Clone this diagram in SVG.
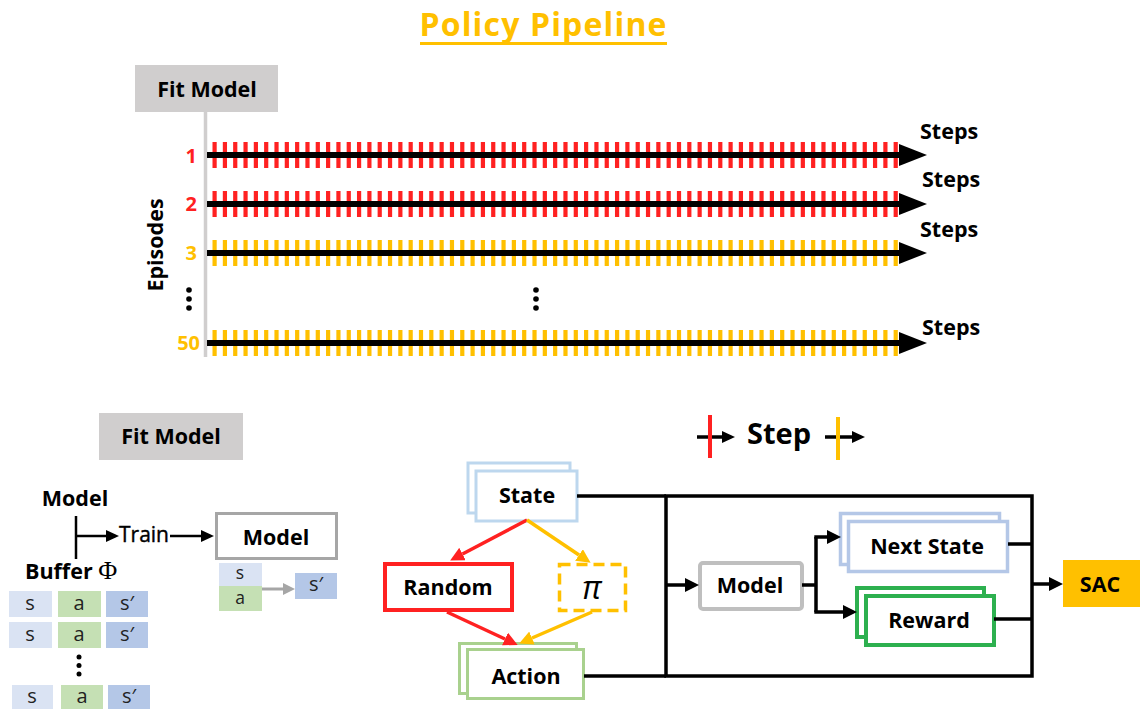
<svg xmlns="http://www.w3.org/2000/svg" width="1140" height="709" viewBox="0 0 1140 709">
<style>
text{font-family:"Open Sans","Liberation Sans",sans-serif;}
.lbl{font-size:21.5px;font-weight:bold;fill:#000;}
.num{font-size:20px;font-weight:bold;}
.cell{font-size:20px;fill:#222;text-anchor:middle;}
.cs{font-size:17.5px;fill:#222;text-anchor:middle;}
.con{fill:none;stroke:#000;stroke-width:3.5;}
.tickR{stroke:#ff2121;stroke-width:26;stroke-dasharray:4.2 6.12;}
.tickY{stroke:#ffc000;stroke-width:26;stroke-dasharray:4.2 6.12;}
.axis{stroke:#000;stroke-width:6;}
</style>
<defs>
<marker id="big" markerUnits="userSpaceOnUse" markerWidth="28" markerHeight="22" viewBox="0 0 28 22" refX="0" refY="11" orient="auto"><path d="M0,0 L28,11 L0,22 z" fill="#000"/></marker>
<marker id="ah" markerUnits="userSpaceOnUse" markerWidth="14" markerHeight="14" viewBox="0 0 14 14" refX="0" refY="7" orient="auto"><path d="M0,0 L14,7 L0,14 z" fill="#000"/></marker>
<marker id="ahs" markerUnits="userSpaceOnUse" markerWidth="13" markerHeight="12" viewBox="0 0 13 12" refX="0" refY="6" orient="auto"><path d="M0,0 L13,6 L0,12 z" fill="#000"/></marker>
<marker id="ahg" markerUnits="userSpaceOnUse" markerWidth="12" markerHeight="12" viewBox="0 0 12 12" refX="0" refY="6" orient="auto"><path d="M0,0 L12,6 L0,12 z" fill="#a6a6a6"/></marker>
<marker id="ahr" markerUnits="userSpaceOnUse" markerWidth="14" markerHeight="14" viewBox="0 0 14 14" refX="0" refY="7" orient="auto"><path d="M0,0 L14,7 L0,14 z" fill="#ff2121"/></marker>
<marker id="ahy" markerUnits="userSpaceOnUse" markerWidth="14" markerHeight="14" viewBox="0 0 14 14" refX="0" refY="7" orient="auto"><path d="M0,0 L14,7 L0,14 z" fill="#ffc000"/></marker>
</defs>
<rect width="1140" height="709" fill="#fff"/>

<!-- Title -->
<g id="title">
<text x="543" y="36" font-size="32" font-weight="bold" fill="#ffc000" text-anchor="middle" textLength="247">Policy Pipeline</text>
<rect x="420" y="42" width="247" height="3" fill="#ffc000"/>
</g>

<!-- Top pipeline -->
<g id="fit-model-top">
<rect x="135" y="65" width="143" height="47" fill="#d0cece"/>
<text x="207" y="97" class="lbl" text-anchor="middle">Fit Model</text>
</g>
<g id="timeline-axis">
<line x1="205.5" y1="112" x2="205.5" y2="357" stroke="#d0cece" stroke-width="3.5"/>
<text class="lbl" transform="translate(163,245) rotate(-90)" text-anchor="middle">Episodes</text>
<circle cx="189" cy="290" r="2.8"/><circle cx="189" cy="299" r="2.8"/><circle cx="189" cy="308" r="2.8"/>
<circle cx="536" cy="290" r="2.8"/><circle cx="536" cy="299" r="2.8"/><circle cx="536" cy="308" r="2.8"/>
</g>
<g id="episode-1">
<text x="197" y="163" class="num" fill="#ff2121" text-anchor="end">1</text>
<line class="tickR" x1="212.5" y1="155" x2="898" y2="155"/>
<line class="axis" x1="207" y1="155" x2="899" y2="155" marker-end="url(#big)"/>
<text x="920" y="139" class="lbl">Steps</text>
</g>
<g id="episode-2">
<text x="197" y="211" class="num" fill="#ff2121" text-anchor="end">2</text>
<line class="tickR" x1="212.5" y1="204" x2="898" y2="204"/>
<line class="axis" x1="207" y1="204" x2="899" y2="204" marker-end="url(#big)"/>
<text x="922" y="187" class="lbl">Steps</text>
</g>
<g id="episode-3">
<text x="197" y="260" class="num" fill="#ffc000" text-anchor="end">3</text>
<line class="tickY" x1="212.5" y1="253" x2="898" y2="253"/>
<line class="axis" x1="207" y1="253" x2="899" y2="253" marker-end="url(#big)"/>
<text x="920" y="237" class="lbl">Steps</text>
</g>
<g id="episode-50">
<text x="200" y="350" class="num" fill="#ffc000" text-anchor="end">50</text>
<line class="tickY" x1="212.5" y1="343" x2="898" y2="343"/>
<line class="axis" x1="207" y1="343" x2="899" y2="343" marker-end="url(#big)"/>
<text x="922" y="335" class="lbl">Steps</text>
</g>

<!-- Bottom left: fit model -->
<g id="fit-model-bottom">
<rect x="99" y="413" width="144" height="47" fill="#d0cece"/>
<text x="171" y="444" class="lbl" text-anchor="middle">Fit Model</text>
</g>
<g id="model-label"><text x="75" y="506" class="lbl" text-anchor="middle">Model</text></g>
<g id="buffer-label"><text x="25" y="579" class="lbl">Buffer <tspan font-family="'Liberation Serif',serif" font-weight="normal" font-size="26">Φ</tspan></text></g>
<g id="train-label"><text x="119" y="542" font-size="21" fill="#000" stroke="#000" stroke-width="0.4">Train</text></g>
<g id="model-train">
<rect x="216.5" y="513.5" width="120" height="45" fill="#fff" stroke="#a6a6a6" stroke-width="3"/>
<text x="276" y="545" class="lbl" text-anchor="middle">Model</text>
</g>
<g id="model-io">
<rect x="219" y="563" width="43" height="23" fill="#dae3f3"/><text x="240" y="579" class="cs">s</text>
<rect x="219" y="586" width="43" height="25" fill="#c5e0b4"/><text x="240" y="604" class="cs">a</text>
<rect x="295" y="573" width="42" height="26" fill="#b4c7e7"/><text x="316" y="591" class="cell">s′</text>
</g>
<g id="buffer">
<rect x="9" y="591" width="43" height="26" fill="#dae3f3"/><text x="30" y="610" class="cell">s</text>
<rect x="58" y="591" width="43" height="26" fill="#c5e0b4"/><text x="79" y="610" class="cell">a</text>
<rect x="106" y="591" width="42" height="26" fill="#b4c7e7"/><text x="127" y="610" class="cell">s′</text>
<rect x="9" y="622" width="43" height="26" fill="#dae3f3"/><text x="30" y="641" class="cell">s</text>
<rect x="58" y="622" width="43" height="26" fill="#c5e0b4"/><text x="79" y="641" class="cell">a</text>
<rect x="106" y="622" width="42" height="26" fill="#b4c7e7"/><text x="127" y="641" class="cell">s′</text>
<circle cx="79" cy="657" r="2.5"/><circle cx="79" cy="665.5" r="2.5"/><circle cx="79" cy="674" r="2.5"/>
<rect x="12" y="685" width="41" height="24" fill="#dae3f3"/><text x="32" y="703" class="cell">s</text>
<rect x="61" y="685" width="42" height="24" fill="#c5e0b4"/><text x="82" y="703" class="cell">a</text>
<rect x="108" y="685" width="42" height="24" fill="#b4c7e7"/><text x="129" y="703" class="cell">s′</text>
</g>

<!-- Legend -->
<g id="legend">
<line x1="697" y1="437" x2="722" y2="437" stroke="#000" stroke-width="3.5" marker-end="url(#ahs)"/>
<line x1="710" y1="415" x2="710" y2="458" stroke="#ff2121" stroke-width="4"/>
<text x="747" y="444" font-size="29" font-weight="bold">Step</text>
<line x1="825" y1="437" x2="852" y2="437" stroke="#000" stroke-width="3.5" marker-end="url(#ahs)"/>
<line x1="838" y1="417" x2="838" y2="460" stroke="#ffc000" stroke-width="4"/>
</g>

<!-- Middle / right flow nodes -->
<g id="state">
<rect x="468" y="463" width="102" height="50" fill="#fff" stroke="#bdd7ee" stroke-width="3"/>
<rect x="476" y="471" width="101" height="50" fill="#fff" stroke="#bdd7ee" stroke-width="3"/>
<text x="527" y="503" class="lbl" text-anchor="middle">State</text>
</g>
<g id="random">
<rect x="385" y="564" width="127" height="46" fill="#fff" stroke="#ff2121" stroke-width="4"/>
<text x="448" y="595" class="lbl" text-anchor="middle">Random</text>
</g>
<g id="policy">
<rect x="559.5" y="564.5" width="66" height="46" fill="#fff" stroke="#ffc000" stroke-width="3.5" stroke-dasharray="11 6"/>
<text x="592" y="599" font-family="'Liberation Serif',serif" font-style="italic" font-size="32" text-anchor="middle">π</text>
</g>
<g id="action">
<rect x="459.5" y="643.5" width="117" height="50" fill="#fff" stroke="#a9d18e" stroke-width="3"/>
<rect x="467.5" y="649.5" width="116" height="49" fill="#fff" stroke="#a9d18e" stroke-width="3"/>
<text x="526" y="684" class="lbl" text-anchor="middle">Action</text>
</g>
<g id="model">
<rect x="700" y="563" width="102" height="46" rx="3" fill="#fff" stroke="#bfbfbf" stroke-width="4"/>
<text x="750" y="593" class="lbl" text-anchor="middle">Model</text>
</g>
<g id="next-state">
<rect x="840.5" y="513.5" width="159" height="51" fill="#fff" stroke="#b4c7e7" stroke-width="3.5"/>
<rect x="848.5" y="521.5" width="159" height="50" fill="#fff" stroke="#b4c7e7" stroke-width="3.5"/>
<text x="927" y="554" class="lbl" text-anchor="middle">Next State</text>
</g>
<g id="reward">
<rect x="857" y="588" width="127" height="49" fill="#fff" stroke="#2db04f" stroke-width="4"/>
<rect x="866" y="596" width="128" height="49" fill="#fff" stroke="#2db04f" stroke-width="4"/>
<text x="929" y="628" class="lbl" text-anchor="middle">Reward</text>
</g>
<g id="sac">
<rect x="1063" y="560" width="77" height="47" fill="#ffc000"/>
<text x="1100" y="592" class="lbl" text-anchor="middle">SAC</text>
</g>

<!-- Connectors -->
<g id="connectors">
<line x1="76" y1="516" x2="76" y2="559" stroke="#000" stroke-width="2.5"/>
<line x1="76" y1="536" x2="106" y2="536" stroke="#000" stroke-width="2.5" marker-end="url(#ahs)"/>
<line x1="170" y1="536" x2="201" y2="536" stroke="#000" stroke-width="2.5" marker-end="url(#ahs)"/>
<line x1="262" y1="589" x2="283" y2="589" stroke="#a6a6a6" stroke-width="3" marker-end="url(#ahg)"/>

<line x1="527" y1="520" x2="462.5" y2="554" stroke="#ff2121" stroke-width="3.5" marker-end="url(#ahr)"/>
<line x1="527" y1="520" x2="579" y2="555" stroke="#ffc000" stroke-width="3.5" marker-end="url(#ahy)"/>
<line x1="447" y1="612" x2="505" y2="639" stroke="#ff2121" stroke-width="3.5" marker-end="url(#ahr)"/>
<line x1="592" y1="612" x2="532" y2="638" stroke="#ffc000" stroke-width="3.5" marker-end="url(#ahy)"/>

<polyline class="con" points="577,496 666,496"/>
<polyline class="con" points="584,676 666,676"/>
<rect x="666" y="496" width="366" height="180" fill="none" stroke="#000" stroke-width="3.5"/>
<line class="con" x1="666" y1="585" x2="685" y2="585" marker-end="url(#ah)"/>
<line class="con" x1="802" y1="585" x2="816" y2="585"/>
<line class="con" x1="816" y1="537" x2="816" y2="612"/>
<line class="con" x1="814.3" y1="537" x2="827" y2="537" marker-end="url(#ah)"/>
<line class="con" x1="814.3" y1="612" x2="843" y2="612" marker-end="url(#ah)"/>
<line class="con" x1="1008" y1="544" x2="1032" y2="544"/>
<line class="con" x1="994" y1="619" x2="1032" y2="619"/>
<line class="con" x1="1032" y1="584" x2="1049" y2="584" marker-end="url(#ah)"/>
</g>
</svg>
